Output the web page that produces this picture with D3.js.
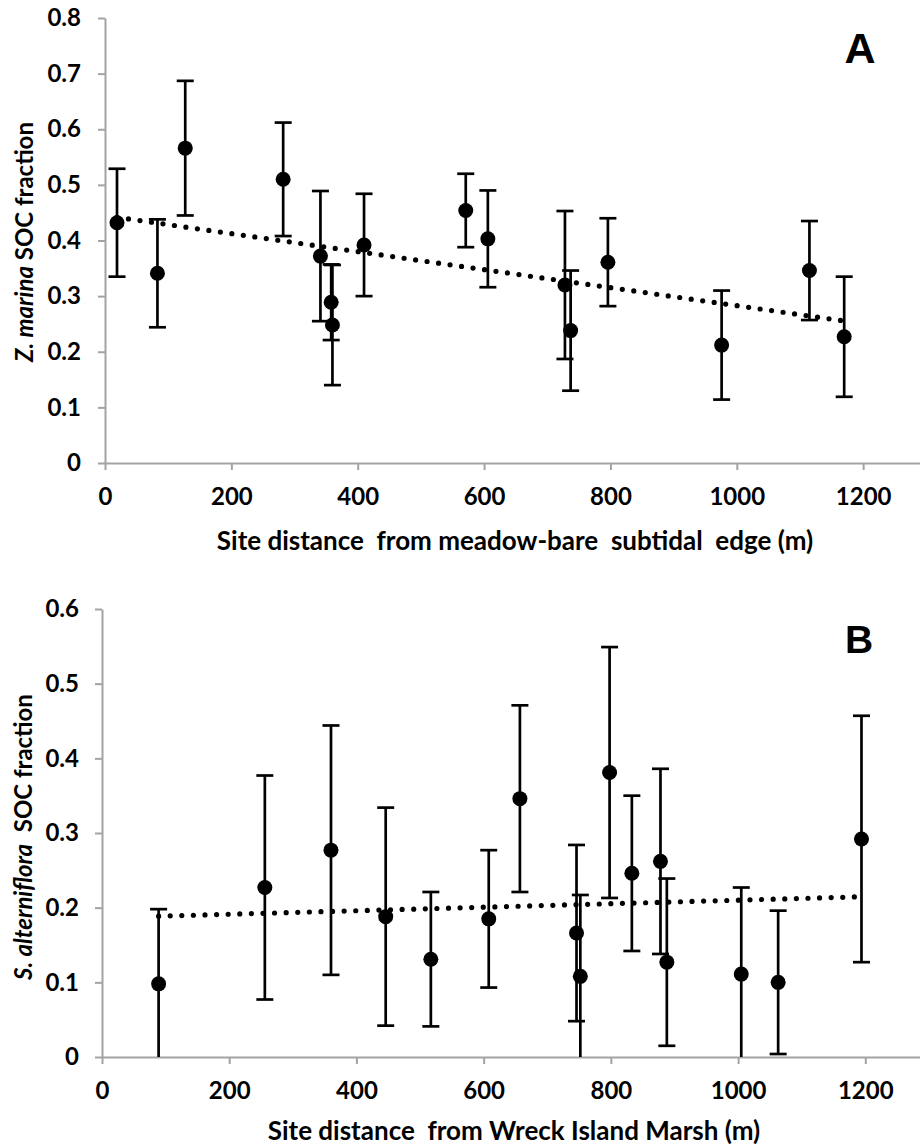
<!DOCTYPE html>
<html>
<head>
<meta charset="utf-8">
<script src="https://cdn.jsdelivr.net/npm/d3@7"></script>
<style>
  body { margin: 0; background: #fff; }
  svg { display: block; }
  .tick text { font-family: Lato, sans-serif; font-weight: 700; font-size: 24px; fill: #000; }
  .axis-title { font-family: Lato, sans-serif; font-weight: 700; fill: #000; }
  .panel-letter { font-family: "Liberation Sans", Arial, sans-serif; font-weight: 700; fill: #000; }
</style>
</head>
<body>
<div id="chart"></div>
<script>
// Panel A: Z. marina
const distA = [19, 83, 127, 282, 341, 358, 360, 410, 571, 606, 728, 737, 796, 976, 1115, 1170];
const socA = [0.432, 0.341, 0.566, 0.510, 0.372, 0.289, 0.248, 0.392, 0.454, 0.403, 0.320, 0.238, 0.361, 0.212, 0.346, 0.227];
const errA = [0.097, 0.097, 0.121, 0.102, 0.117, 0.068, 0.108, 0.092, 0.066, 0.087, 0.133, 0.108, 0.079, 0.098, 0.089, 0.108];

// Panel B: S. alterniflora
const distB = [89, 256, 360, 446, 517, 608, 657, 746, 752, 798, 833, 878, 888, 1005, 1063, 1194];
const socB = [0.098, 0.227, 0.277, 0.188, 0.131, 0.185, 0.346, 0.166, 0.108, 0.381, 0.246, 0.262, 0.127, 0.111, 0.100, 0.292];
const errB = [0.100, 0.150, 0.167, 0.146, 0.090, 0.092, 0.125, 0.118, 0.109, 0.168, 0.104, 0.124, 0.112, 0.116, 0.096, 0.165];

const xTicks = [0, 200, 400, 600, 800, 1000, 1200];
const yTicksA = [0, 0.1, 0.2, 0.3, 0.4, 0.5, 0.6, 0.7, 0.8];
const yTicksB = [0, 0.1, 0.2, 0.3, 0.4, 0.5, 0.6];

const width = 920, height = 1148;
const svg = d3.select("#chart").append("svg")
  .attr("width", width)
  .attr("height", height);

function drawPanel(p) {
  const g = svg.append("g");
  const x = d3.scaleLinear().domain([0, p.xMax]).range([p.left, width]);
  const y = d3.scaleLinear().domain([0, p.yMax]).range([p.bottom, p.top]);

  // axes
  const xAxis = g.append("g")
    .attr("transform", `translate(0,${p.bottom})`)
    .call(d3.axisBottom(x).tickValues(xTicks).tickFormat(d3.format("d")).tickSize(7).tickSizeOuter(0).tickPadding(18));
  const yAxis = g.append("g")
    .attr("transform", `translate(${p.left},0)`)
    .call(d3.axisLeft(y).tickValues(p.yTicks).tickFormat(d => d === 0 ? "0" : d3.format(".1f")(d)).tickSize(7).tickSizeOuter(0).tickPadding(p.yPad));
  [xAxis, yAxis].forEach(a => {
    a.select(".domain").attr("stroke", "#a3a3a3").attr("stroke-width", 2);
    a.selectAll(".tick line").attr("stroke", "#a3a3a3").attr("stroke-width", 2);
  });

  const pts = p.dist.map((d, i) => ({ x: d, y: p.soc[i], e: p.err[i] }));

  // error bars
  const capHalf = 8.5;
  const bars = g.append("g").attr("stroke", "#000").attr("stroke-width", 2.7).attr("fill", "none");
  pts.forEach(d => {
    const cx = x(d.x);
    const hi = d.y + d.e, lo = d.y - d.e;
    bars.append("line").attr("x1", cx).attr("x2", cx)
      .attr("y1", y(hi)).attr("y2", y(Math.max(lo, 0)));
    bars.append("line").attr("x1", cx - capHalf).attr("x2", cx + capHalf)
      .attr("y1", y(hi)).attr("y2", y(hi));
    if (lo > 0) {
      bars.append("line").attr("x1", cx - capHalf).attr("x2", cx + capHalf)
        .attr("y1", y(lo)).attr("y2", y(lo));
    }
  });

  // markers
  g.append("g").selectAll("circle")
    .data(pts)
    .join("circle")
    .attr("cx", d => x(d.x))
    .attr("cy", d => y(d.y))
    .attr("r", 7.5)
    .attr("fill", "#000");

  // linear trend line (least squares)
  const mx = d3.mean(pts, d => d.x), my = d3.mean(pts, d => d.y);
  const slope = d3.sum(pts, d => (d.x - mx) * (d.y - my)) / d3.sum(pts, d => (d.x - mx) ** 2);
  const icpt = my - slope * mx;
  const [x0, x1] = d3.extent(pts, d => d.x);
  g.append("path")
    .attr("d", d3.line().x(d => x(d)).y(d => y(icpt + slope * d))([x0, x1]))
    .attr("stroke", "#000")
    .attr("stroke-width", 5.2)
    .attr("stroke-linecap", "round")
    .attr("stroke-dasharray", "0 11.6")
    .attr("fill", "none");

  // x title
  g.append("text")
    .attr("class", "axis-title")
    .attr("x", p.xTitleX)
    .attr("y", p.xTitleY)
    .attr("text-anchor", "middle")
    .style("font-size", "26px")
    .style("white-space", "pre")
    .text(p.xTitle);

  // y title
  const yt = g.append("text")
    .attr("class", "axis-title")
    .attr("transform", `translate(${p.yTitleX},${p.yTitleY}) rotate(-90)`)
    .attr("text-anchor", "middle")
    .style("font-size", "24px")
    .style("white-space", "pre");
  yt.append("tspan").style("font-style", "italic").text(p.yTitleItalic);
  yt.append("tspan").text(p.yTitleRest);

  // panel letter
  g.append("text")
    .attr("class", "panel-letter")
    .attr("x", p.letterX)
    .attr("y", p.letterY)
    .attr("text-anchor", "middle")
    .style("font-size", p.letterSize + "px")
    .text(p.letter);
}

drawPanel({
  dist: distA, soc: socA, err: errA,
  xMax: 1290, yMax: 0.8, yTicks: yTicksA,
  left: 105, top: 18, bottom: 463, yPad: 17,
  xTitle: "Site distance  from meadow-bare  subtidal  edge (m)",
  xTitleX: 515, xTitleY: 550,
  yTitleItalic: "Z. marina", yTitleRest: " SOC fraction",
  yTitleX: 33, yTitleY: 242,
  letter: "A", letterX: 860, letterY: 63, letterSize: 43
});

drawPanel({
  dist: distB, soc: socB, err: errB,
  xMax: 1286, yMax: 0.6, yTicks: yTicksB,
  left: 102, top: 609, bottom: 1057, yPad: 16,
  xTitle: "Site distance  from Wreck Island Marsh (m)",
  xTitleX: 514, xTitleY: 1140,
  yTitleItalic: "S. alterniflora", yTitleRest: "  SOC fraction",
  yTitleX: 32, yTitleY: 837,
  letter: "B", letterX: 859, letterY: 653, letterSize: 39
});
</script>
</body>
</html>
